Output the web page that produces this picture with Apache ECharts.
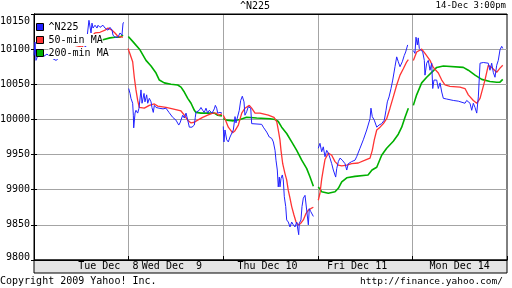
<!DOCTYPE html>
<html><head><meta charset="utf-8">
<script src="https://cdn.jsdelivr.net/npm/echarts@6/dist/echarts.min.js"></script>
<style>html,body{margin:0;padding:0;background:#fff}#c{width:512px;height:288px}</style>
</head><body><div id="c"></div>
<script>
// x values are trading-day positions (0 = Tue Dec 8 open, 1 = Wed open, ...)
const dayLabels = ['Tue Dec  8', 'Wed Dec  9', 'Thu Dec 10', 'Fri Dec 11', 'Mon Dec 14'];
const legendNames = ['^N225', '50-min MA', '200-min MA'];
const yMin = 9800, yMax = 10150, yStep = 50;

const n225Tue = [[0.000,10091],[0.011,10110],[0.021,10084],[0.063,10099],[0.106,10090],[0.137,10093],[0.190,10087],[0.233,10084],[0.296,10091],[0.359,10096],[0.423,10099],[0.486,10100],[0.550,10104],[0.581,10141],[0.603,10123],[0.613,10137],[0.624,10130],[0.645,10134],[0.666,10130],[0.677,10134],[0.698,10131],[0.729,10134],[0.751,10130],[0.772,10131],[0.782,10127],[0.803,10131],[0.825,10127],[0.835,10120],[0.856,10117],[0.888,10117],[0.909,10123],[0.930,10120],[0.941,10137],[0.951,10138]];
const n225Wed = [[1.001,10044],[1.015,10037],[1.025,10030],[1.043,10023],[1.050,10006],[1.054,9988],[1.068,10009],[1.078,10013],[1.096,10009],[1.110,10016],[1.131,10042],[1.142,10023],[1.163,10037],[1.173,10025],[1.191,10035],[1.202,10023],[1.219,10030],[1.237,10025],[1.247,10017],[1.261,10010],[1.272,10020],[1.290,10017],[1.321,10016],[1.364,10015],[1.395,10016],[1.427,10010],[1.466,10003],[1.501,9999],[1.530,9992],[1.543,9995],[1.572,10006],[1.589,10002],[1.607,10009],[1.625,9999],[1.642,9989],[1.670,9989],[1.695,9992],[1.705,10003],[1.712,10010],[1.730,10010],[1.747,10013],[1.765,10017],[1.783,10013],[1.800,10010],[1.818,10016],[1.836,10009],[1.853,10013],[1.882,10009],[1.906,10015],[1.917,10020],[1.931,10016],[1.942,10009],[1.966,10010],[1.987,10009]];
const n225Thu = [[2.001,9990],[2.008,9968],[2.019,9985],[2.037,9971],[2.054,9968],[2.072,9975],[2.090,9973],[2.107,9985],[2.125,10004],[2.135,9995],[2.149,10002],[2.170,10013],[2.185,10027],[2.202,10033],[2.220,10025],[2.230,10006],[2.248,10011],[2.265,10018],[2.276,10020],[2.291,10016],[2.301,9994],[2.318,9994],[2.407,9993],[2.424,9989],[2.460,9982],[2.487,9975],[2.513,9973],[2.530,9968],[2.548,9956],[2.558,9942],[2.572,9928],[2.582,9904],[2.593,9918],[2.600,9904],[2.611,9916],[2.625,9921],[2.635,9914],[2.646,9890],[2.661,9876],[2.671,9857],[2.688,9854],[2.706,9847],[2.724,9854],[2.741,9850],[2.759,9847],[2.777,9854],[2.798,9836],[2.804,9852],[2.822,9857],[2.833,9876],[2.847,9888],[2.865,9892],[2.883,9892],[2.900,9850],[2.910,9873],[2.925,9869],[2.939,9871],[2.953,9862]];
const n225Fri = [[3.005,9959],[3.023,9966],[3.041,9954],[3.058,9961],[3.076,9947],[3.094,9956],[3.111,9952],[3.129,9945],[3.147,9937],[3.164,9928],[3.189,9918],[3.200,9930],[3.217,9940],[3.235,9945],[3.259,9942],[3.288,9937],[3.306,9928],[3.322,9937],[3.358,9940],[3.393,9942],[3.411,9947],[3.446,9959],[3.481,9971],[3.517,9985],[3.552,10001],[3.562,10016],[3.576,10004],[3.597,9999],[3.623,9989],[3.647,9992],[3.675,9994],[3.703,9999],[3.721,10013],[3.735,10025],[3.753,10032],[3.774,10044],[3.792,10056],[3.816,10075],[3.834,10089],[3.851,10082],[3.869,10075],[3.893,10082],[3.914,10091],[3.929,10096],[3.950,10106]];
const n225Mon = [[4.010,10098],[4.027,10094],[4.038,10117],[4.052,10106],[4.062,10116],[4.073,10101],[4.091,10099],[4.109,10096],[4.126,10084],[4.133,10063],[4.151,10080],[4.168,10084],[4.186,10070],[4.204,10080],[4.215,10044],[4.228,10056],[4.257,10056],[4.274,10044],[4.292,10052],[4.310,10039],[4.327,10030],[4.363,10029],[4.432,10027],[4.485,10026],[4.556,10023],[4.574,10027],[4.609,10023],[4.627,10013],[4.644,10023],[4.662,10017],[4.680,10009],[4.697,10032],[4.715,10080],[4.750,10081],[4.802,10080],[4.820,10070],[4.838,10080],[4.855,10067],[4.873,10060],[4.891,10077],[4.908,10084],[4.926,10099],[4.944,10104],[4.955,10101]];

const ma50Tue = [[0.180,10106],[0.275,10107],[0.381,10107],[0.507,10103],[0.571,10113],[0.645,10123],[0.698,10124],[0.751,10127],[0.782,10130],[0.825,10127],[0.856,10123],[0.888,10118],[0.941,10117]];
const ma50Wed = [[0.994,10101],[1.015,10093],[1.043,10082],[1.060,10060],[1.078,10042],[1.096,10027],[1.113,10017],[1.131,10015],[1.166,10016],[1.219,10020],[1.272,10022],[1.308,10019],[1.395,10017],[1.466,10015],[1.554,10012],[1.589,10006],[1.625,9999],[1.660,9995],[1.695,9996],[1.730,9999],[1.783,10003],[1.836,10006],[1.889,10009],[1.924,10009],[1.952,10006],[1.987,10008]];
const ma50Thu = [[2.001,10006],[2.019,10001],[2.054,9989],[2.100,9981],[2.125,9984],[2.160,9992],[2.196,10009],[2.230,10016],[2.276,10020],[2.301,10016],[2.336,10009],[2.389,10009],[2.477,10006],[2.537,10003],[2.566,9997],[2.582,9985],[2.600,9971],[2.611,9956],[2.629,9937],[2.653,9923],[2.671,9914],[2.688,9899],[2.706,9888],[2.724,9876],[2.748,9864],[2.770,9854],[2.794,9850],[2.819,9852],[2.847,9857],[2.875,9866],[2.900,9871],[2.925,9873],[2.953,9875]];
const ma50Fri = [[3.005,9885],[3.023,9895],[3.041,9915],[3.058,9929],[3.076,9943],[3.111,9952],[3.147,9949],[3.182,9940],[3.217,9935],[3.253,9934],[3.306,9935],[3.358,9937],[3.428,9938],[3.499,9942],[3.552,9945],[3.576,9956],[3.597,9971],[3.623,9985],[3.658,9989],[3.693,9994],[3.728,10001],[3.763,10016],[3.798,10032],[3.834,10049],[3.869,10063],[3.904,10072],[3.940,10082],[3.957,10085]];
const ma50Mon = [[4.010,10084],[4.045,10096],[4.098,10100],[4.133,10094],[4.186,10084],[4.221,10074],[4.274,10066],[4.310,10056],[4.345,10049],[4.397,10047],[4.503,10046],[4.556,10044],[4.591,10035],[4.644,10027],[4.680,10023],[4.715,10030],[4.767,10056],[4.802,10077],[4.838,10074],[4.891,10067],[4.926,10073],[4.955,10077]];

const ma200Tue = [[0.719,10113],[0.803,10116],[0.856,10117],[0.909,10117],[0.941,10120]];
const ma200Wed = [[0.997,10118],[1.050,10110],[1.120,10099],[1.184,10084],[1.237,10076],[1.290,10066],[1.325,10056],[1.377,10052],[1.448,10050],[1.519,10049],[1.554,10046],[1.589,10039],[1.625,10030],[1.660,10023],[1.695,10013],[1.712,10010],[1.765,10009],[1.836,10009],[1.906,10009],[1.942,10006],[1.987,10005]];
const ma200Thu = [[2.001,10001],[2.037,9999],[2.107,9998],[2.178,10000],[2.248,10003],[2.354,10002],[2.495,10001],[2.548,10000],[2.582,9997],[2.618,9989],[2.671,9980],[2.724,9968],[2.777,9956],[2.830,9942],[2.883,9930],[2.918,9918],[2.953,9905]];
const ma200Fri = [[3.005,9904],[3.041,9897],[3.111,9895],[3.182,9897],[3.217,9902],[3.253,9911],[3.306,9917],[3.393,9919],[3.531,9921],[3.573,9928],[3.623,9932],[3.675,9949],[3.728,9959],[3.798,9969],[3.851,9979],[3.887,9989],[3.922,10003],[3.957,10016]];
const ma200Mon = [[4.010,10020],[4.045,10035],[4.098,10052],[4.151,10060],[4.204,10067],[4.257,10074],[4.327,10076],[4.538,10074],[4.591,10070],[4.662,10063],[4.733,10057],[4.820,10054],[4.891,10053],[4.926,10053],[4.955,10057]];

function joinDays(days) {
  const out = [];
  days.forEach((d, i) => {
    if (i) out.push([d[0][0] - 0.002, '-']);
    d.forEach(p => out.push(p));
  });
  return out;
}
const n225 = joinDays([n225Tue, n225Wed, n225Thu, n225Fri, n225Mon]);
const ma50 = joinDays([ma50Tue, ma50Wed, ma50Thu, ma50Fri, ma50Mon]);
const ma200 = joinDays([ma200Tue, ma200Wed, ma200Thu, ma200Fri, ma200Mon]);

const FONT = 'DejaVu Sans Mono';
const GRIDC = '#a4a4a4';
const colors = ['#2222ff', '#ff3333', '#00b000'];
const labelShift = [27, -4, -3, -8, 0];

const chart = echarts.init(document.getElementById('c'), null, {renderer: 'canvas'});
const rich = {};
labelShift.forEach((s, i) => {
  rich['d' + i] = {fontFamily: FONT, fontSize: 10, color: '#000',
    padding: s >= 0 ? [0, 0, 0, 2 * s] : [0, -2 * s, 0, 0]};
});
chart.setOption({
  animation: false,
  backgroundColor: '#fff',
  color: colors,
  title: [
    {text: '^N225', left: 240, top: 1, padding: 0,
     textStyle: {fontFamily: FONT, fontSize: 10, fontWeight: 'normal', color: '#000'}},
    {text: '14-Dec 3:00pm', right: 6, top: 1, padding: 0,
     textStyle: {fontFamily: FONT, fontSize: 9, fontWeight: 'normal', color: '#000'}},
    {text: 'Copyright 2009 Yahoo! Inc.', left: 0, top: 276, padding: 0,
     textStyle: {fontFamily: FONT, fontSize: 10, fontWeight: 'normal', color: '#000'}},
    {text: 'http://finance.yahoo.com/', right: 9, top: 277, padding: 0,
     textStyle: {fontFamily: FONT, fontSize: 9.5, fontWeight: 'normal', color: '#000'}}
  ],
  legend: {
    data: legendNames, orient: 'vertical', left: 36, top: 21, padding: 0,
    icon: 'rect', itemWidth: 7, itemHeight: 7, itemGap: 1,
    itemStyle: {borderColor: '#000', borderWidth: 1},
    textStyle: {fontFamily: FONT, fontSize: 10, color: '#000', backgroundColor: '#fff', lineHeight: 12},
    selectedMode: false
  },
  grid: [
    {left: 34, right: 5, top: 14, bottom: 28, show: true, borderColor: '#000', borderWidth: 1, backgroundColor: '#fff', containLabel: false, outerBoundsMode: 'none'},
    {left: 34, right: 5, top: 260, height: 13, show: true, borderColor: '#000', borderWidth: 1, backgroundColor: '#e4e4e4', containLabel: false, outerBoundsMode: 'none'}
  ],
  xAxis: [
    {type: 'value', gridIndex: 0, min: 0, max: 5, interval: 1, position: 'bottom',
     axisLine: {show: true, lineStyle: {color: '#000', width: 1}},
     axisTick: {show: true, inside: true, length: 4, lineStyle: {color: '#000'}},
     axisLabel: {show: false},
     splitLine: {show: true, showMinLine: false, showMaxLine: false, lineStyle: {color: GRIDC, width: 1}}},
    {type: 'value', gridIndex: 0, min: 0, max: 5, interval: 1, position: 'top',
     axisLine: {show: true, lineStyle: {color: '#000', width: 1}},
     axisTick: {show: false}, axisLabel: {show: false}, splitLine: {show: false}},
    {type: 'category', gridIndex: 1, data: dayLabels, position: 'top', boundaryGap: true,
     axisLine: {show: false}, axisTick: {show: false}, splitLine: {show: false},
     axisLabel: {show: true, inside: true, margin: 1, interval: 0, hideOverlap: false,
       fontFamily: FONT, fontSize: 10, color: '#000', verticalAlign: 'top',
       formatter: (v, i) => '{d' + i + '|' + v + '}', rich: rich}}
  ],
  yAxis: [
    {type: 'value', gridIndex: 0, min: yMin, max: yMax, interval: yStep, position: 'left',
     axisLine: {show: true, lineStyle: {color: '#000', width: 1}},
     axisTick: {show: true, inside: true, length: 3, lineStyle: {color: '#000'}},
     axisLabel: {show: true, margin: 4, fontFamily: FONT, fontSize: 10, color: '#000', hideOverlap: false,
       formatter: v => v === yMax ? '{t|' + v + '}' : (v === yMin ? '{b|' + v + '}' : String(v)),
       rich: {t: {fontFamily: FONT, fontSize: 10, color: '#000', padding: [15, 0, 0, 0]},
              b: {fontFamily: FONT, fontSize: 10, color: '#000', padding: [0, 0, 6, 0]}}},
     splitLine: {show: true, showMinLine: false, showMaxLine: false, lineStyle: {color: GRIDC, width: 1}}},
    {type: 'value', gridIndex: 0, min: yMin, max: yMax, interval: yStep, position: 'right',
     axisLine: {show: true, lineStyle: {color: '#000', width: 1}},
     axisTick: {show: true, inside: true, length: 3, lineStyle: {color: '#000'}},
     axisLabel: {show: false}, splitLine: {show: false}},
    {type: 'value', gridIndex: 1, show: false}
  ],
  series: [
    {name: legendNames[0], type: 'line', xAxisIndex: 0, yAxisIndex: 0, data: n225, showSymbol: false, connectNulls: false,
     lineStyle: {width: 1, color: colors[0]}, itemStyle: {color: colors[0]}, z: 3},
    {name: legendNames[1], type: 'line', xAxisIndex: 0, yAxisIndex: 0, data: ma50, showSymbol: false, connectNulls: false,
     lineStyle: {width: 1.3, color: colors[1]}, itemStyle: {color: colors[1]}, z: 2},
    {name: legendNames[2], type: 'line', xAxisIndex: 0, yAxisIndex: 0, data: ma200, showSymbol: false, connectNulls: false,
     lineStyle: {width: 1.6, color: colors[2]}, itemStyle: {color: colors[2]}, z: 1}
  ]
});
</script></body></html>
